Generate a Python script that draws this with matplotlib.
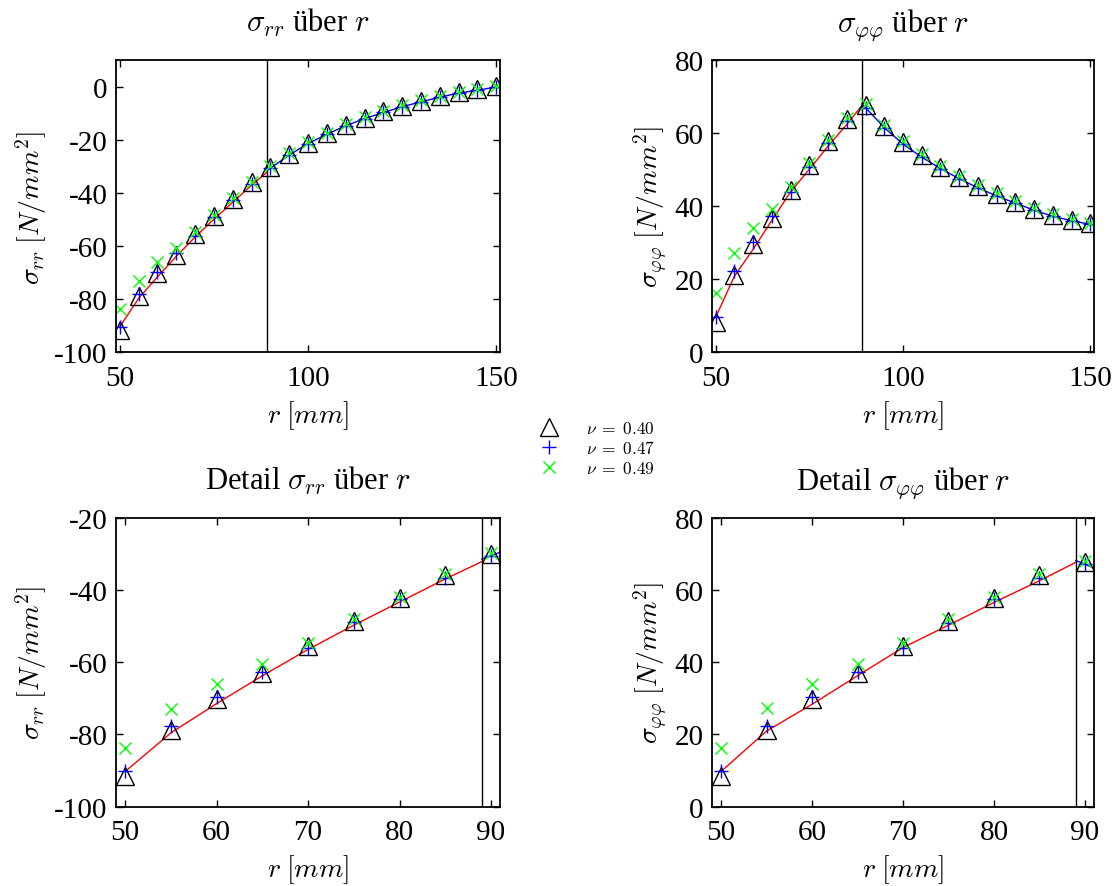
import matplotlib
matplotlib.use('Agg')
import matplotlib.pyplot as plt
from matplotlib.lines import Line2D

plt.rcParams['font.family'] = ['Liberation Serif', 'DejaVu Serif']
plt.rcParams['mathtext.fontset'] = 'cm'
plt.rcParams['axes.unicode_minus'] = False

# Stuetzstellen (FE-Knoten)
r = [50, 55, 60, 65, 70, 75, 80, 85, 90, 95, 100, 105, 110, 115, 120, 125, 130, 135, 140, 145, 150]

srr_040 = [-91.6, -78.7, -70.2, -63.1, -55.5, -48.7, -42.2, -35.8, -30.0, -25.2, -21.0,
           -17.4, -14.2, -11.6, -9.2, -7.0, -5.2, -3.4, -1.9, -0.8, 0.3]
srr_047 = [-90.3, -77.8, -69.8, -62.7, -56.0, -49.0, -42.6, -36.6, -30.6, -25.6, -21.3,
           -17.8, -14.6, -11.9, -9.6, -7.4, -5.6, -3.8, -2.3, -1.2, 0.0]
srr_049 = [-83.8, -72.9, -66.0, -60.6, -54.6, -48.1, -41.9, -35.6, -29.7, -25.0, -20.8,
           -17.2, -14.0, -11.3, -9.0, -6.8, -5.0, -3.3, -1.8, -0.7, 0.4]

sphi_040 = [8.4, 21.3, 29.8, 36.9, 44.5, 51.3, 57.8, 64.0, 67.8, 62.1, 57.6,
            54.0, 50.8, 48.0, 45.5, 43.3, 41.3, 39.3, 37.6, 36.4, 35.4]
sphi_047 = [9.7, 22.2, 30.2, 37.3, 44.0, 50.8, 57.4, 63.4, 67.1, 61.6, 57.1,
            53.5, 50.4, 47.6, 45.1, 42.9, 40.9, 39.0, 37.3, 36.1, 35.1]
sphi_049 = [16.2, 27.2, 34.0, 39.4, 45.4, 51.9, 58.1, 64.3, 68.0, 62.4, 57.9,
            54.3, 51.1, 48.3, 45.8, 43.6, 41.6, 39.6, 37.9, 36.7, 35.6]

# analytische Loesung innen / aussen
r_in = [50, 55, 60, 65, 70, 75, 80, 85, 89]
srr_in = [-90.3, -79.6, -71.5, -63.8, -56.5, -49.8, -43.4, -37.0, -32.2]
sphi_in = [9.7, 20.9, 28.3, 36.2, 44.0, 50.2, 56.5, 62.5, 67.6]

r_out = [89, 90, 95, 100, 105, 110, 115, 120, 125, 130, 135, 140, 145, 150]
srr_out = [-31.5, -30.6, -25.6, -21.3, -17.8, -14.6, -11.9, -9.6, -7.4, -5.6, -3.8, -2.3, -1.2, 0.0]
sphi_out = [68.1, 67.1, 61.6, 57.1, 53.5, 50.4, 47.6, 45.1, 42.9, 40.9, 39.0, 37.3, 36.1, 35.1]

r_grenze = 89
nu_labels = [r'$\nu\;=\;0.40$', r'$\nu\;=\;0.47$', r'$\nu\;=\;0.49$']


def plotpanel(ax, title, ylabel, s040, s047, s049, s_in, s_out, xlim, ylim, xticks, yticks):
	ax.plot(r_in, s_in, color='r', lw=1)
	ax.plot(r_out, s_out, color='b', lw=1)
	ax.axvline(r_grenze, color='k', lw=1)
	ax.plot(r, s040, ls='none', marker='^', ms=13, mfc='none', mec='k', mew=1)
	ax.plot(r, s047, ls='none', marker='+', ms=10, mec='b', mew=1)
	ax.plot(r, s049, ls='none', marker='x', ms=8, mec=(0, 1, 0), mew=1)
	ax.set_xlim(xlim)
	ax.set_ylim(ylim)
	ax.set_xticks(xticks)
	ax.set_yticks(yticks)
	ax.tick_params(direction='in', top=True, right=True, length=5, width=1, labelsize=21)
	ax.tick_params(axis='x', pad=9)
	ax.tick_params(axis='y', pad=6)
	for sp in ax.spines.values():
		sp.set_linewidth(1.3)
	ax.set_title(title, fontsize=22, pad=21)
	ax.set_xlabel(r'$r\;[mm]$', fontsize=20, labelpad=5)
	ax.set_ylabel(ylabel, fontsize=20, labelpad=4)


if __name__ == '__main__':

	fig = plt.figure(figsize=(11.17, 8.87), dpi=100)

	ax1 = fig.add_axes([0.1039, 0.6015, 0.3438, 0.3292])
	ax2 = fig.add_axes([0.6374, 0.6015, 0.3420, 0.3292])
	ax3 = fig.add_axes([0.1039, 0.0896, 0.3438, 0.3258])
	ax4 = fig.add_axes([0.6374, 0.0896, 0.3420, 0.3258])

	lab_rr = r'$\sigma_{rr}\;[N/mm^2]$'
	lab_pp = r'$\sigma_{\varphi\varphi}\;[N/mm^2]$'

	plotpanel(ax1, r'$\sigma_{rr}$ über $r$', lab_rr, srr_040, srr_047, srr_049,
			srr_in, srr_out, (49, 151), (-100, 10), [50, 100, 150], [-100, -80, -60, -40, -20, 0])
	plotpanel(ax2, r'$\sigma_{\varphi\varphi}$ über $r$', lab_pp, sphi_040, sphi_047, sphi_049,
			sphi_in, sphi_out, (49, 151), (0, 80), [50, 100, 150], [0, 20, 40, 60, 80])
	plotpanel(ax3, r'Detail $\sigma_{rr}$ über $r$', lab_rr, srr_040, srr_047, srr_049,
			srr_in, srr_out, (49, 91), (-100, -20), [50, 60, 70, 80, 90], [-100, -80, -60, -40, -20])
	plotpanel(ax4, r'Detail $\sigma_{\varphi\varphi}$ über $r$', lab_pp, sphi_040, sphi_047, sphi_049,
			sphi_in, sphi_out, (49, 91), (0, 80), [50, 60, 70, 80, 90], [0, 20, 40, 60, 80])

	handles = [Line2D([], [], ls='none', marker='^', ms=13, mfc='none', mec='k', mew=1),
			Line2D([], [], ls='none', marker='+', ms=10, mec='b', mew=1),
			Line2D([], [], ls='none', marker='x', ms=8, mec=(0, 1, 0), mew=1)]
	fig.legend(handles, nu_labels, loc='center left', bbox_to_anchor=(0.466, 0.4927), frameon=False,
			fontsize=12.5, handlelength=1.5, handletextpad=1.4, labelspacing=0.2)

	fig.savefig('out.png', dpi=100)
	plt.close()
